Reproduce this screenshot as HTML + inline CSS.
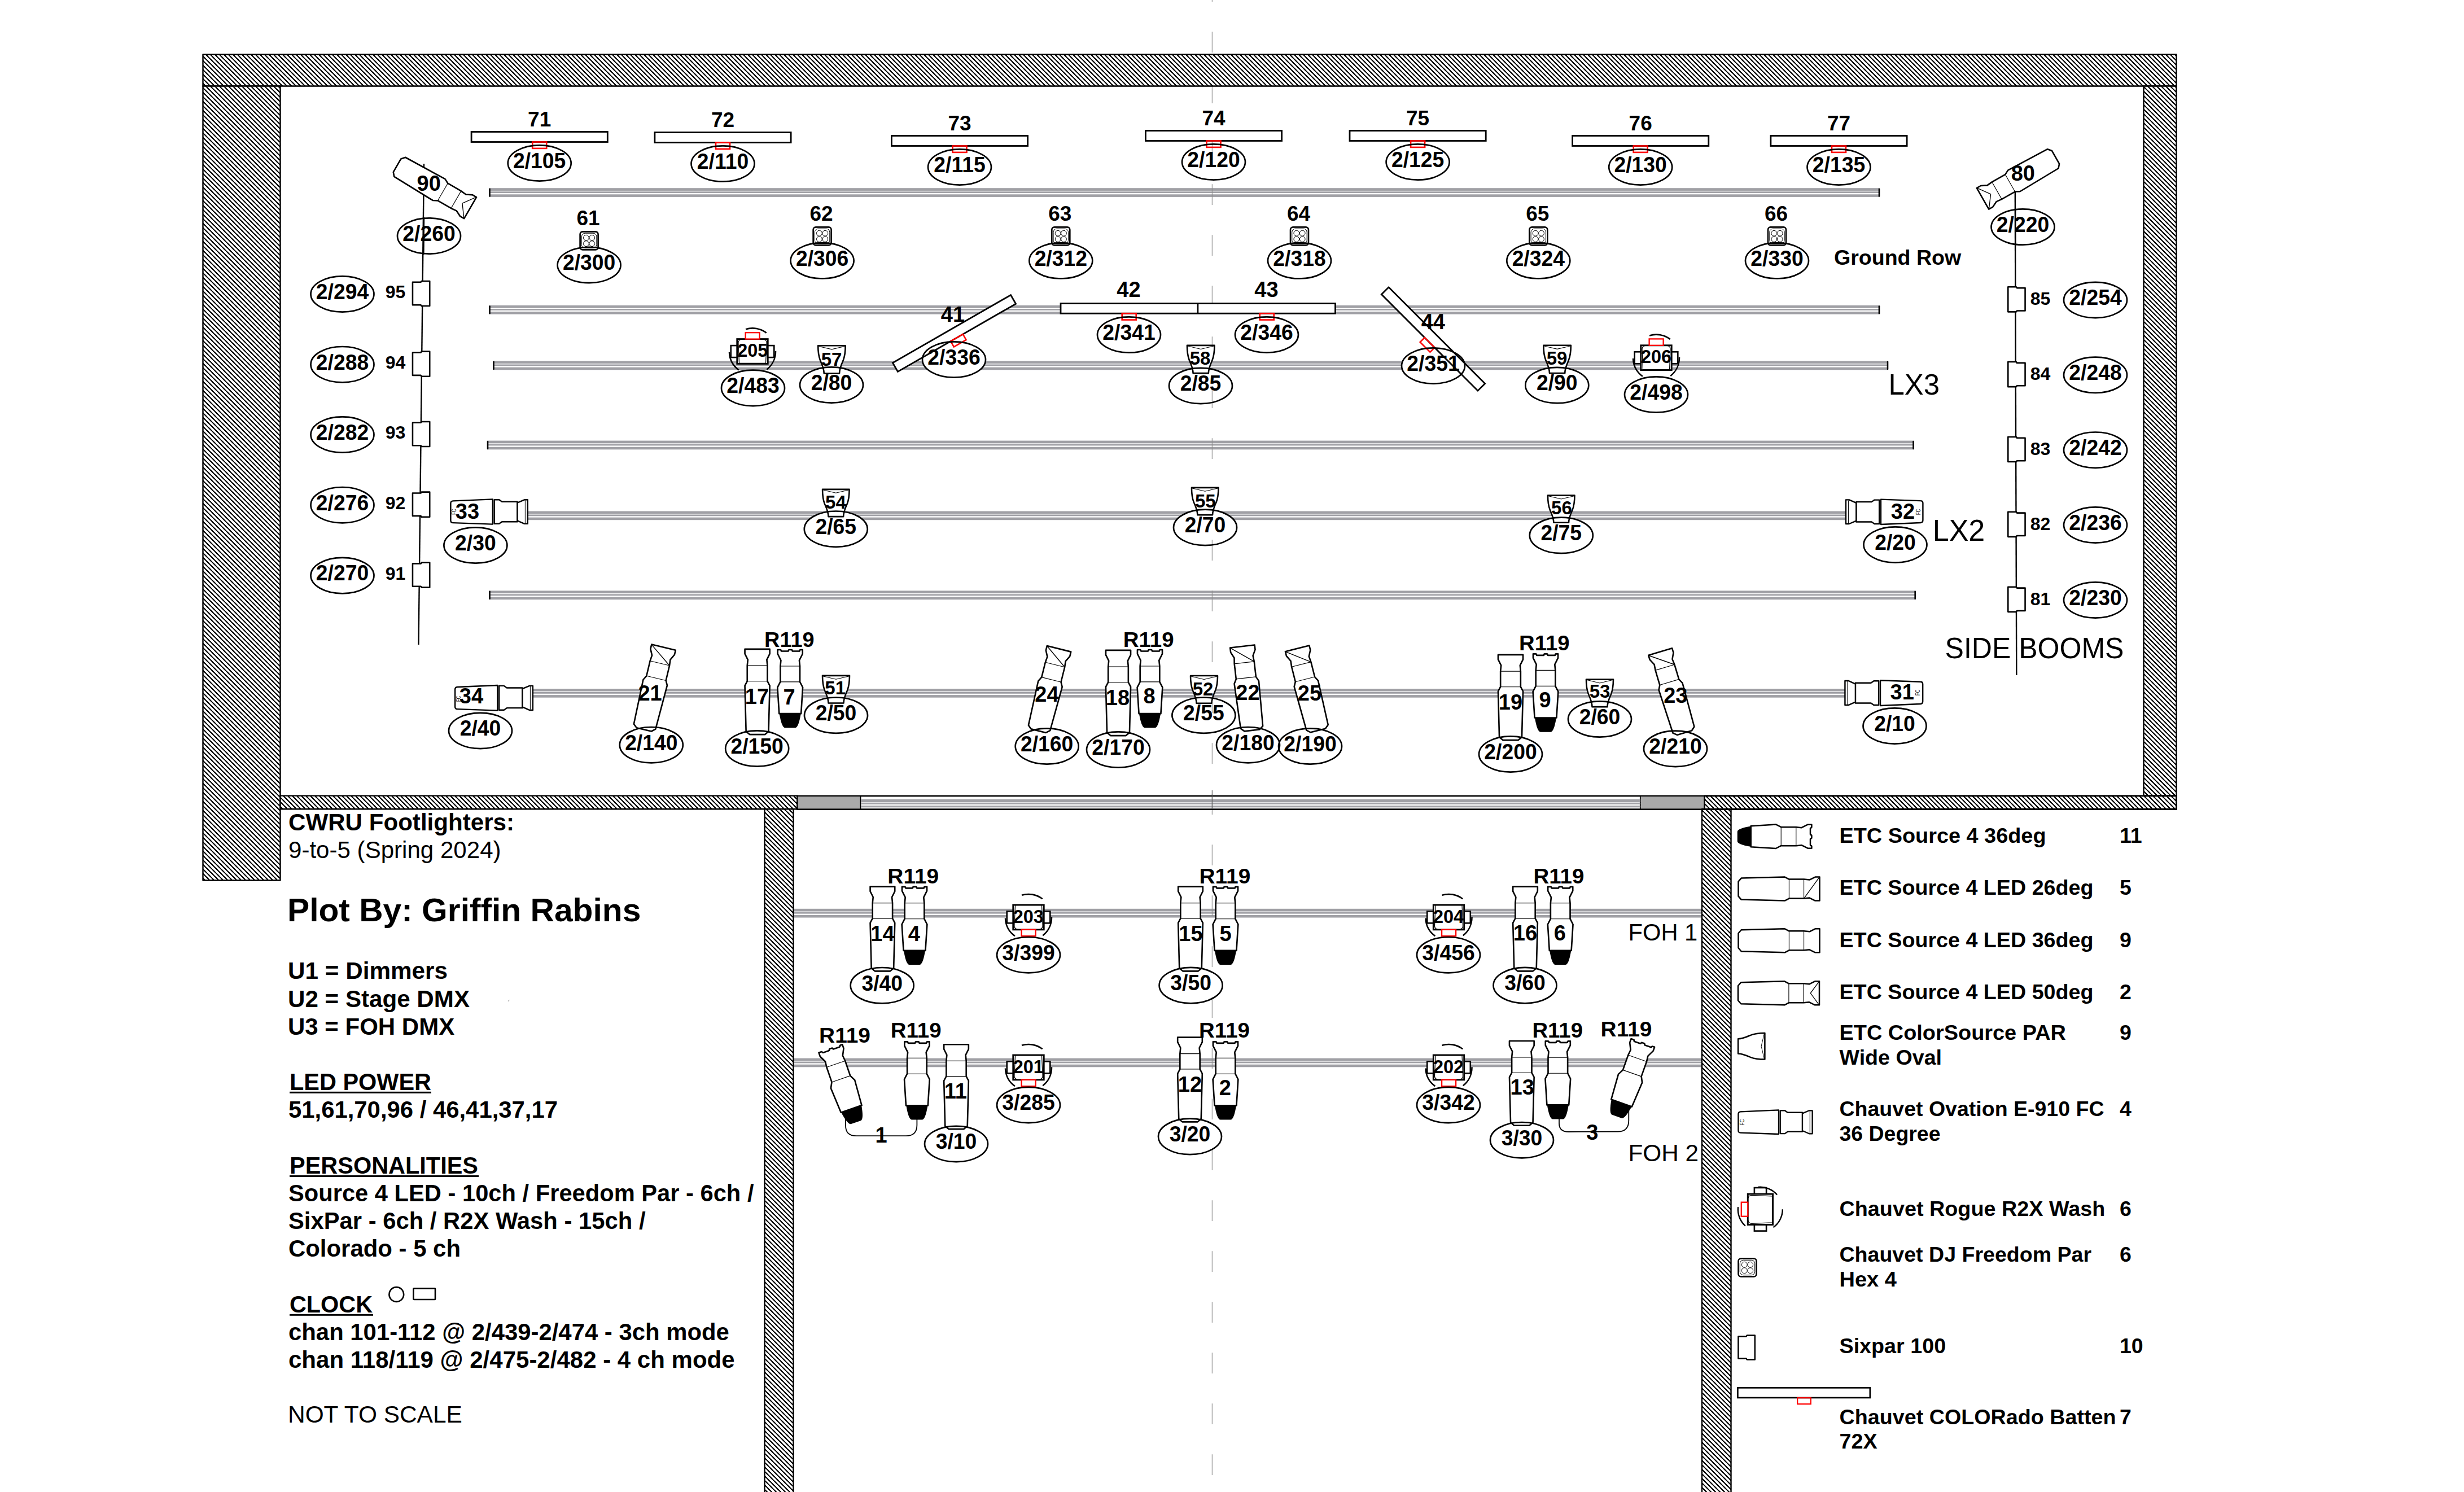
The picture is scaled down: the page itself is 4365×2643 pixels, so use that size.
<!DOCTYPE html><html><head><meta charset="utf-8"><title>Lighting Plot</title><style>html,body{margin:0;padding:0;background:#fff;overflow:hidden}svg{display:block}text{font-family:"Liberation Sans",sans-serif;fill:#000}</style></head><body>
<svg width="4365" height="2643" viewBox="0 0 4365 2643">
<defs><pattern id="hatch" patternUnits="userSpaceOnUse" x="0" y="5" width="8" height="8" shape-rendering="crispEdges"><rect width="8" height="8" fill="#fff"/><g fill="#000"><rect x="0" y="0" width="1" height="1"/><rect x="1" y="0" width="1" height="1"/><rect x="2" y="0" width="1" height="1"/><rect x="1" y="1" width="1" height="1"/><rect x="2" y="1" width="1" height="1"/><rect x="3" y="1" width="1" height="1"/><rect x="2" y="2" width="1" height="1"/><rect x="3" y="2" width="1" height="1"/><rect x="4" y="2" width="1" height="1"/><rect x="3" y="3" width="1" height="1"/><rect x="4" y="3" width="1" height="1"/><rect x="5" y="3" width="1" height="1"/><rect x="4" y="4" width="1" height="1"/><rect x="5" y="4" width="1" height="1"/><rect x="6" y="4" width="1" height="1"/><rect x="5" y="5" width="1" height="1"/><rect x="6" y="5" width="1" height="1"/><rect x="7" y="5" width="1" height="1"/><rect x="6" y="6" width="1" height="1"/><rect x="7" y="6" width="1" height="1"/><rect x="0" y="6" width="1" height="1"/><rect x="7" y="7" width="1" height="1"/><rect x="0" y="7" width="1" height="1"/><rect x="1" y="7" width="1" height="1"/></g></pattern><g id="led36"><path d="M-72,-13 L-66.8,-19 L10.3,-21 L17.9,-17 L44.1,-17 L54.1,-16 L64.1,-21 L72,-21 L72,21 L64.1,21 L54.1,16 L44.1,17 L17.9,17 L10.3,21 L-66.8,19 L-72,13 Z" fill="#fff" stroke="#000" stroke-width="2.5" stroke-linejoin="round"/><path d="M17.9,-17 L17.9,17 M44.1,-17 L44.1,17" stroke="#000" stroke-width="1.1" fill="none"/></g><g id="led26"><use href="#led36"/><path d="M71,-20 L44.1,17" stroke="#000" stroke-width="1.4" fill="none"/></g><g id="led50"><use href="#led36"/><path d="M71,-20 L56.3,0 L71,20" stroke="#000" stroke-width="1.3" fill="none"/></g><g id="conv"><path d="M-41.2,-17.5 C-53.7,-15.5 -65.2,-12.5 -65.2,-8.5 L-65.2,8.5 C-65.2,12.5 -53.7,15.5 -41.2,17.5 Z" fill="#000" stroke="#000" stroke-width="1.5" stroke-linejoin="round"/><path d="M-42,-18.5 L2.2,-21.3 L11.5,-16.5 L38.1,-16.5 L47.8,-15.5 L58.8,-21 L65.7,-21 L65.7,-16.6 Q65.7,-15.3 64.5,-15.3 Q63.3,-15.3 63.3,-14 L63.3,-4 Q63.3,-2.7 64.5,-2.7 Q65.7,-2.7 65.7,-1.4 L65.7,2.2 Q65.7,3.5 64.5,3.5 Q63.3,3.5 63.3,4.8 L63.3,15 Q63.3,16.3 64.5,16.3 Q65.7,16.3 65.7,17.6 L65.7,21 L58.8,21 L47.8,15.5 L38.1,16.5 L11.5,16.5 L2.2,21.3 L-42,18.5 Z" fill="#fff" stroke="#000" stroke-width="2.5" stroke-linejoin="round"/><path d="M11.5,-16.5 L11.5,16.5 M38.1,-16.5 L38.1,16.5" stroke="#000" stroke-width="1.1"/></g><g id="ovation"><path d="M-61.6,-18.4 L6,-21.3 L6,21.3 L-61.6,18.9 Q-65.6,18.9 -65.6,14.9 L-65.6,-14.2 Q-65.6,-18.2 -61.6,-18.4 Z" fill="#fff" stroke="#000" stroke-width="2.3" stroke-linejoin="round"/><path d="M8.7,-20.4 L16.9,-20.4 L21.8,-17 L48,-17 L48,17 L21.8,17 L16.9,20.4 L8.7,20.4 Z" fill="#fff" stroke="#000" stroke-width="2.3" stroke-linejoin="round"/><path d="M48,-15.3 L60,-20.4 L65.6,-20.4 L65.6,20.6 L60,20.6 L48,15.3 Z" fill="#fff" stroke="#000" stroke-width="2.3" stroke-linejoin="round"/><path d="M61.3,-19.5 L61.3,19.5" stroke="#000" stroke-width="1"/></g><g id="par"><path d="M-23.65,-13.1 C-15.65,-13.1 -9.65,-16 -1.65,-19.5 C6.35,-22.6 14.35,-23.3 23.65,-23.3 L23.65,23.3 C14.35,23.3 6.35,22.6 -1.65,19.5 C-9.65,16 -15.65,13.1 -23.65,13.1 Z" fill="#fff" stroke="#000" stroke-width="2.5" stroke-linejoin="round"/><path d="M22.55,-22 L17.35,0 L22.55,22" fill="none" stroke="#000" stroke-width="1"/></g><g id="hex"><rect x="-16" y="-16" width="32" height="32" rx="4.5" fill="#fff" stroke="#000" stroke-width="2.6"/><rect x="-13.2" y="-13.2" width="26.4" height="26.4" rx="6" fill="none" stroke="#000" stroke-width="1"/><circle cx="-5.2" cy="-5.2" r="4.9" fill="none" stroke="#000" stroke-width="1"/><circle cx="5.2" cy="-5.2" r="4.9" fill="none" stroke="#000" stroke-width="1"/><circle cx="-5.2" cy="5.2" r="4.9" fill="none" stroke="#000" stroke-width="1"/><circle cx="5.2" cy="5.2" r="4.9" fill="none" stroke="#000" stroke-width="1"/></g><g id="sixpar"><path d="M-14.7,-19.6 L-0.6,-19.6 L0.6,-21.4 L14.7,-21.4 L14.7,21.4 L0.6,21.4 L-0.6,19.6 L-14.7,19.6 Z" fill="#fff" stroke="#000" stroke-width="2.5" stroke-linejoin="round"/></g><g id="batten"><rect x="-120.6" y="-9" width="241.2" height="18" fill="#fff" stroke="#000" stroke-width="2.8"/><rect x="-12.5" y="9" width="25" height="11.4" fill="none" stroke="#f00" stroke-width="2.6"/></g><g id="r2xbody"><rect x="-38.3" y="-10.3" width="76.6" height="21" fill="#fff" stroke="#000" stroke-width="2.6"/><rect x="-27.2" y="-21.8" width="54.4" height="43.8" fill="#fff" stroke="#000" stroke-width="2.9"/><path d="M-25,-15 Q-25,-21 -19,-21 L19,-21 Q25,-21 25,-15 L23.5,21 L-23.5,21 Z" fill="#fff" stroke="#000" stroke-width="1.2"/><rect x="-12.4" y="-33.2" width="25" height="11.4" fill="#fff" stroke="#f00" stroke-width="2.3"/></g></defs>
<rect width="4365" height="2643" fill="#fff"/>
<rect x="867.5" y="333.2" width="2461.5" height="4.7" fill="#a0a0a5"/>
<rect x="867.5" y="339.2" width="2461.5" height="2.8" fill="#a0a0a5"/>
<rect x="867.5" y="344.3" width="2461.5" height="4.6" fill="#a0a0a5"/>
<rect x="866.2" y="333.4" width="2.6" height="15.4" rx="1" fill="#000"/>
<rect x="3327.7" y="333.4" width="2.6" height="15.4" rx="1" fill="#000"/>
<rect x="867.5" y="541" width="2461.5" height="4.7" fill="#a0a0a5"/>
<rect x="867.5" y="547" width="2461.5" height="2.8" fill="#a0a0a5"/>
<rect x="867.5" y="552.1" width="2461.5" height="4.6" fill="#a0a0a5"/>
<rect x="866.2" y="541.2" width="2.6" height="15.4" rx="1" fill="#000"/>
<rect x="3327.7" y="541.2" width="2.6" height="15.4" rx="1" fill="#000"/>
<rect x="874.5" y="639.5" width="2469.5" height="4.7" fill="#a0a0a5"/>
<rect x="874.5" y="645.5" width="2469.5" height="2.8" fill="#a0a0a5"/>
<rect x="874.5" y="650.6" width="2469.5" height="4.6" fill="#a0a0a5"/>
<rect x="873.2" y="639.7" width="2.6" height="15.4" rx="1" fill="#000"/>
<rect x="3342.7" y="639.7" width="2.6" height="15.4" rx="1" fill="#000"/>
<rect x="864" y="780.6" width="2525.5" height="4.7" fill="#a0a0a5"/>
<rect x="864" y="786.6" width="2525.5" height="2.8" fill="#a0a0a5"/>
<rect x="864" y="791.7" width="2525.5" height="4.6" fill="#a0a0a5"/>
<rect x="862.7" y="780.8" width="2.6" height="15.4" rx="1" fill="#000"/>
<rect x="3388.2" y="780.8" width="2.6" height="15.4" rx="1" fill="#000"/>
<rect x="930" y="905.5" width="2345" height="4.7" fill="#a0a0a5"/>
<rect x="930" y="911.5" width="2345" height="2.8" fill="#a0a0a5"/>
<rect x="930" y="916.6" width="2345" height="4.6" fill="#a0a0a5"/>
<rect x="867.5" y="1046.4" width="2525.2" height="4.7" fill="#a0a0a5"/>
<rect x="867.5" y="1052.4" width="2525.2" height="2.8" fill="#a0a0a5"/>
<rect x="867.5" y="1057.5" width="2525.2" height="4.6" fill="#a0a0a5"/>
<rect x="866.2" y="1046.6" width="2.6" height="15.4" rx="1" fill="#000"/>
<rect x="3391.4" y="1046.6" width="2.6" height="15.4" rx="1" fill="#000"/>
<rect x="940" y="1220" width="2332" height="4.7" fill="#a0a0a5"/>
<rect x="940" y="1226" width="2332" height="2.8" fill="#a0a0a5"/>
<rect x="940" y="1231.1" width="2332" height="4.6" fill="#a0a0a5"/>
<rect x="1406" y="1609.8" width="1609" height="4.7" fill="#a0a0a5"/>
<rect x="1406" y="1615.8" width="1609" height="2.8" fill="#a0a0a5"/>
<rect x="1406" y="1620.9" width="1609" height="4.6" fill="#a0a0a5"/>
<rect x="1406" y="1874.6" width="1609" height="4.7" fill="#a0a0a5"/>
<rect x="1406" y="1880.6" width="1609" height="2.8" fill="#a0a0a5"/>
<rect x="1406" y="1885.7" width="1609" height="4.6" fill="#a0a0a5"/>
<ellipse cx="955.7" cy="289" rx="56" ry="31.7" fill="#fff"/>
<ellipse cx="1280.5" cy="290" rx="56" ry="31.7" fill="#fff"/>
<ellipse cx="1700" cy="296" rx="56" ry="31.7" fill="#fff"/>
<ellipse cx="2150" cy="287" rx="56" ry="31.7" fill="#fff"/>
<ellipse cx="2511.6" cy="287" rx="56" ry="31.7" fill="#fff"/>
<ellipse cx="2906.2" cy="296" rx="56" ry="31.7" fill="#fff"/>
<ellipse cx="3257.5" cy="296" rx="56" ry="31.7" fill="#fff"/>
<ellipse cx="2000" cy="593" rx="56" ry="31.7" fill="#fff"/>
<ellipse cx="2244" cy="593" rx="56" ry="31.7" fill="#fff"/>
<ellipse cx="1690" cy="637" rx="56" ry="31.7" fill="#fff"/>
<ellipse cx="2539" cy="648" rx="56" ry="31.7" fill="#fff"/>
<ellipse cx="1043.6" cy="469.5" rx="56" ry="31.7" fill="#fff"/>
<ellipse cx="1456.6" cy="461.8" rx="56" ry="31.7" fill="#fff"/>
<ellipse cx="1879.3" cy="461.8" rx="56" ry="31.7" fill="#fff"/>
<ellipse cx="2302" cy="461.8" rx="56" ry="31.7" fill="#fff"/>
<ellipse cx="2725.3" cy="461.8" rx="56" ry="31.7" fill="#fff"/>
<ellipse cx="3148" cy="461.8" rx="56" ry="31.7" fill="#fff"/>
<ellipse cx="606.5" cy="521" rx="56" ry="31.7" fill="#fff"/>
<ellipse cx="606.5" cy="645.7" rx="56" ry="31.7" fill="#fff"/>
<ellipse cx="606.5" cy="770" rx="56" ry="31.7" fill="#fff"/>
<ellipse cx="606.5" cy="894.7" rx="56" ry="31.7" fill="#fff"/>
<ellipse cx="606.5" cy="1019.6" rx="56" ry="31.7" fill="#fff"/>
<ellipse cx="3712" cy="531.5" rx="56" ry="31.7" fill="#fff"/>
<ellipse cx="3712" cy="664.3" rx="56" ry="31.7" fill="#fff"/>
<ellipse cx="3712" cy="797.2" rx="56" ry="31.7" fill="#fff"/>
<ellipse cx="3712" cy="930" rx="56" ry="31.7" fill="#fff"/>
<ellipse cx="3712" cy="1063" rx="56" ry="31.7" fill="#fff"/>
<ellipse cx="760" cy="418" rx="56" ry="31.7" fill="#fff"/>
<ellipse cx="3583.5" cy="402" rx="56" ry="31.7" fill="#fff"/>
<ellipse cx="1334" cy="687.4" rx="56" ry="31.7" fill="#fff"/>
<ellipse cx="1473" cy="682" rx="56" ry="31.7" fill="#fff"/>
<ellipse cx="2127" cy="683.5" rx="56" ry="31.7" fill="#fff"/>
<ellipse cx="2758.3" cy="682.5" rx="56" ry="31.7" fill="#fff"/>
<ellipse cx="2934" cy="699" rx="56" ry="31.7" fill="#fff"/>
<ellipse cx="842.4" cy="966" rx="56" ry="31.7" fill="#fff"/>
<ellipse cx="1480.8" cy="937.2" rx="56" ry="31.7" fill="#fff"/>
<ellipse cx="2135" cy="934.4" rx="56" ry="31.7" fill="#fff"/>
<ellipse cx="2765.8" cy="948.4" rx="56" ry="31.7" fill="#fff"/>
<ellipse cx="3357.5" cy="965" rx="56" ry="31.7" fill="#fff"/>
<ellipse cx="851" cy="1294.5" rx="56" ry="31.7" fill="#fff"/>
<ellipse cx="1153.8" cy="1319.7" rx="56" ry="31.7" fill="#fff"/>
<ellipse cx="1341.2" cy="1326" rx="56" ry="31.7" fill="#fff"/>
<ellipse cx="1481" cy="1267.2" rx="56" ry="31.7" fill="#fff"/>
<ellipse cx="1854.7" cy="1322" rx="56" ry="31.7" fill="#fff"/>
<ellipse cx="1981" cy="1328" rx="56" ry="31.7" fill="#fff"/>
<ellipse cx="2132.4" cy="1267.2" rx="56" ry="31.7" fill="#fff"/>
<ellipse cx="2211" cy="1319.7" rx="56" ry="31.7" fill="#fff"/>
<ellipse cx="2321" cy="1322" rx="56" ry="31.7" fill="#fff"/>
<ellipse cx="2676" cy="1336" rx="56" ry="31.7" fill="#fff"/>
<ellipse cx="2834" cy="1274" rx="56" ry="31.7" fill="#fff"/>
<ellipse cx="2968" cy="1326.4" rx="56" ry="31.7" fill="#fff"/>
<ellipse cx="3356.5" cy="1286" rx="56" ry="31.7" fill="#fff"/>
<ellipse cx="1562.7" cy="1745.7" rx="56" ry="31.7" fill="#fff"/>
<ellipse cx="1822" cy="1691.7" rx="56" ry="31.7" fill="#fff"/>
<ellipse cx="2109.6" cy="1745.6" rx="56" ry="31.7" fill="#fff"/>
<ellipse cx="2566" cy="1691.7" rx="56" ry="31.7" fill="#fff"/>
<ellipse cx="2701.5" cy="1745.6" rx="56" ry="31.7" fill="#fff"/>
<ellipse cx="1694" cy="2026.5" rx="56" ry="31.7" fill="#fff"/>
<ellipse cx="1822" cy="1957.5" rx="56" ry="31.7" fill="#fff"/>
<ellipse cx="2108" cy="2013.4" rx="56" ry="31.7" fill="#fff"/>
<ellipse cx="2566" cy="1957.5" rx="56" ry="31.7" fill="#fff"/>
<ellipse cx="2696" cy="2019.7" rx="56" ry="31.7" fill="#fff"/>
<line x1="2147.3" y1="0" x2="2147.3" y2="2643" stroke="#8a8a8a" stroke-width="1.1" stroke-dasharray="36.7 53.3" stroke-dashoffset="-56.3"/>
<path d="M751,290 L741.5,1142" stroke="#000" stroke-width="2.4" fill="none"/>
<path d="M3569.8,338 L3572.3,1196" stroke="#000" stroke-width="2.4" fill="none"/>
<use href="#batten" transform="translate(955.7 242.5)"/>
<text x="955.7" y="223.5" font-size="37" font-weight="bold" text-anchor="middle">71</text>
<use href="#batten" transform="translate(1280.5 243.5)"/>
<text x="1280.5" y="224.5" font-size="37" font-weight="bold" text-anchor="middle">72</text>
<use href="#batten" transform="translate(1700 249.5)"/>
<text x="1700" y="230.5" font-size="37" font-weight="bold" text-anchor="middle">73</text>
<use href="#batten" transform="translate(2150 240.5)"/>
<text x="2150" y="221.5" font-size="37" font-weight="bold" text-anchor="middle">74</text>
<use href="#batten" transform="translate(2511.6 240.5)"/>
<text x="2511.6" y="221.5" font-size="37" font-weight="bold" text-anchor="middle">75</text>
<use href="#batten" transform="translate(2906.2 249.5)"/>
<text x="2906.2" y="230.5" font-size="37" font-weight="bold" text-anchor="middle">76</text>
<use href="#batten" transform="translate(3257.5 249.5)"/>
<text x="3257.5" y="230.5" font-size="37" font-weight="bold" text-anchor="middle">77</text>
<rect x="1879" y="537.6" width="486.5" height="17.6" fill="#fff" stroke="#000" stroke-width="2.8"/>
<line x1="2122" y1="537.6" x2="2122" y2="555.2" stroke="#000" stroke-width="2.6"/>
<rect x="1987.7" y="555.2" width="25" height="11.4" fill="none" stroke="#f00" stroke-width="2.6"/>
<rect x="2231.7" y="555.2" width="25" height="11.4" fill="none" stroke="#f00" stroke-width="2.6"/>
<text x="1999.5" y="526" font-size="38" font-weight="bold" text-anchor="middle">42</text>
<text x="2243.5" y="526" font-size="38" font-weight="bold" text-anchor="middle">43</text>
<use href="#batten" transform="translate(1690.5 590.5) rotate(-29.9)"/>
<text x="1688" y="569.6" font-size="38" font-weight="bold" text-anchor="middle">41</text>
<use href="#batten" transform="translate(2539 600.5) rotate(45)"/>
<text x="2538.8" y="583" font-size="38" font-weight="bold" text-anchor="middle">44</text>
<use href="#hex" transform="translate(1043.6 426.4)"/>
<text x="1042.1" y="399.4" font-size="37" font-weight="bold" text-anchor="middle">61</text>
<use href="#hex" transform="translate(1456.6 418.4)"/>
<text x="1455.1" y="391.4" font-size="37" font-weight="bold" text-anchor="middle">62</text>
<use href="#hex" transform="translate(1879.3 418.4)"/>
<text x="1877.8" y="391.4" font-size="37" font-weight="bold" text-anchor="middle">63</text>
<use href="#hex" transform="translate(2302 418.4)"/>
<text x="2300.5" y="391.4" font-size="37" font-weight="bold" text-anchor="middle">64</text>
<use href="#hex" transform="translate(2725.3 418.4)"/>
<text x="2723.8" y="391.4" font-size="37" font-weight="bold" text-anchor="middle">65</text>
<use href="#hex" transform="translate(3148 418.4)"/>
<text x="3146.5" y="391.4" font-size="37" font-weight="bold" text-anchor="middle">66</text>
<text x="3249" y="469" font-size="37" font-weight="bold" text-anchor="start" textLength="225.2" lengthAdjust="spacingAndGlyphs">Ground Row</text>
<use href="#sixpar" transform="translate(746.1 520) scale(1.03)"/>
<text x="682.8" y="528" font-size="32" font-weight="bold" text-anchor="start">95</text>
<use href="#sixpar" transform="translate(746.1 644.7) scale(1.03)"/>
<text x="682.8" y="652.7" font-size="32" font-weight="bold" text-anchor="start">94</text>
<use href="#sixpar" transform="translate(746.1 769) scale(1.03)"/>
<text x="682.8" y="777" font-size="32" font-weight="bold" text-anchor="start">93</text>
<use href="#sixpar" transform="translate(746.1 893.7) scale(1.03)"/>
<text x="682.8" y="901.7" font-size="32" font-weight="bold" text-anchor="start">92</text>
<use href="#sixpar" transform="translate(746.1 1018.6) scale(1.03)"/>
<text x="682.8" y="1026.6" font-size="32" font-weight="bold" text-anchor="start">91</text>
<use href="#sixpar" transform="translate(3572.4 530.3) rotate(180) scale(1.03)"/>
<text x="3596.8" y="540" font-size="32" font-weight="bold" text-anchor="start">85</text>
<use href="#sixpar" transform="translate(3572.4 663.1) rotate(180) scale(1.03)"/>
<text x="3596.8" y="672.8" font-size="32" font-weight="bold" text-anchor="start">84</text>
<use href="#sixpar" transform="translate(3572.4 796) rotate(180) scale(1.03)"/>
<text x="3596.8" y="805.7" font-size="32" font-weight="bold" text-anchor="start">83</text>
<use href="#sixpar" transform="translate(3572.4 928.8) rotate(180) scale(1.03)"/>
<text x="3596.8" y="938.5" font-size="32" font-weight="bold" text-anchor="start">82</text>
<use href="#sixpar" transform="translate(3572.4 1061.8) rotate(180) scale(1.03)"/>
<text x="3596.8" y="1071.5" font-size="32" font-weight="bold" text-anchor="start">81</text>
<use href="#led50" transform="translate(768.3 330.7) rotate(30.1) scale(1.04)"/>
<text x="759.7" y="337.5" font-size="38" font-weight="bold" text-anchor="middle">90</text>
<path d="M751,385 L750.4,451" stroke="#000" stroke-width="2.4"/>
<use href="#led50" transform="translate(3577 315.2) rotate(150.4) scale(1.03)"/>
<text x="3583.8" y="319.6" font-size="38" font-weight="bold" text-anchor="middle">80</text>
<path d="M3570.1,369 L3570.3,435" stroke="#000" stroke-width="2.4"/>
<use href="#r2xbody" transform="translate(1333 622.4)"/>
<path d="M1321.01,583.19 A41,41 0 0 1 1357.67,589.66 M1373.99,621.68 A41,41 0 0 1 1358.24,654.71 M1308.9,655.57 A41,41 0 0 1 1292.02,623.83 " fill="none" stroke="#000" stroke-width="2.6"/>
<text x="1333.3" y="632.3" font-size="32.5" font-weight="bold" text-anchor="middle">205</text>
<use href="#par" transform="translate(1473.4 636.9) rotate(-90) scale(1.04)"/>
<text x="1473" y="647.6" font-size="33" font-weight="bold" text-anchor="middle">57</text>
<use href="#par" transform="translate(2127.2 636.5) rotate(-90) scale(1.04)"/>
<text x="2126" y="646.4" font-size="33" font-weight="bold" text-anchor="middle">58</text>
<use href="#par" transform="translate(2758.6 636.4) rotate(-90) scale(1.04)"/>
<text x="2758" y="646.2" font-size="33" font-weight="bold" text-anchor="middle">59</text>
<use href="#r2xbody" transform="translate(2934 633.6)"/>
<path d="M2922.01,594.39 A41,41 0 0 1 2958.67,600.86 M2974.99,632.88 A41,41 0 0 1 2959.24,665.91 M2909.9,666.77 A41,41 0 0 1 2893.02,635.03 " fill="none" stroke="#000" stroke-width="2.6"/>
<text x="2934" y="642.8" font-size="32.5" font-weight="bold" text-anchor="middle">206</text>
<text x="3345.5" y="699" font-size="51" font-weight="normal" text-anchor="start" textLength="90.6" lengthAdjust="spacingAndGlyphs">LX3</text>
<use href="#ovation" transform="translate(866.6 906.5) scale(1.04)"/>
<text x="0" y="0" font-size="10.5" font-weight="normal" text-anchor="middle" textLength="10.5" lengthAdjust="spacingAndGlyphs" transform="translate(804.6 906.8) rotate(-90)" dy="3.7">FC</text>
<text x="828" y="918.5" font-size="38" font-weight="bold" text-anchor="middle">33</text>
<use href="#par" transform="translate(1480.8 891) rotate(-90) scale(1.02)"/>
<text x="1480.4" y="900.6" font-size="33" font-weight="bold" text-anchor="middle">54</text>
<use href="#par" transform="translate(2134.7 888) rotate(-90) scale(1.02)"/>
<text x="2135.3" y="898.8" font-size="33" font-weight="bold" text-anchor="middle">55</text>
<use href="#par" transform="translate(2765.7 901.7) rotate(-90) scale(1.02)"/>
<text x="2766.4" y="911.3" font-size="33" font-weight="bold" text-anchor="middle">56</text>
<use href="#ovation" transform="translate(3338.2 906.8) rotate(180) scale(1.04)"/>
<text x="0" y="0" font-size="10.5" font-weight="normal" text-anchor="middle" textLength="10.5" lengthAdjust="spacingAndGlyphs" transform="translate(3397.9 907.1) rotate(-90)" dy="3.7">FC</text>
<text x="3371" y="918.6" font-size="38" font-weight="bold" text-anchor="middle">32</text>
<text x="3423.7" y="958" font-size="54" font-weight="normal" text-anchor="start" textLength="92.6" lengthAdjust="spacingAndGlyphs">LX2</text>
<use href="#ovation" transform="translate(875 1236.3) scale(1.05)"/>
<text x="0" y="0" font-size="10.5" font-weight="normal" text-anchor="middle" textLength="10.5" lengthAdjust="spacingAndGlyphs" transform="translate(812.5 1238) rotate(-90)" dy="3.7">FC</text>
<text x="835" y="1246" font-size="38" font-weight="bold" text-anchor="middle">34</text>
<use href="#led26" transform="translate(1158.2 1219.5) rotate(-76.6) scale(1.04)"/>
<text x="1151.6" y="1241" font-size="38" font-weight="bold" text-anchor="middle">21</text>
<use href="#led36" transform="translate(1341.6 1225.5) rotate(-90) scale(1.05)"/>
<text x="1341" y="1247" font-size="38" font-weight="bold" text-anchor="middle">17</text>
<use href="#conv" transform="translate(1399.7 1220) rotate(-90) scale(1.05)"/>
<text x="1398" y="1247.5" font-size="38" font-weight="bold" text-anchor="middle">7</text>
<text x="1398.3" y="1146" font-size="36.5" font-weight="bold" text-anchor="middle" textLength="88.4" lengthAdjust="spacingAndGlyphs">R119</text>
<use href="#par" transform="translate(1481 1221.2) rotate(-90) scale(1.03)"/>
<text x="1479.7" y="1229.9" font-size="33" font-weight="bold" text-anchor="middle">51</text>
<use href="#led26" transform="translate(1857.9 1222) rotate(-76) scale(1.04)"/>
<text x="1854.4" y="1242.7" font-size="38" font-weight="bold" text-anchor="middle">24</text>
<use href="#led36" transform="translate(1981 1227.5) rotate(-90) scale(1.05)"/>
<text x="1980" y="1249.2" font-size="38" font-weight="bold" text-anchor="middle">18</text>
<use href="#conv" transform="translate(2037 1220) rotate(-90) scale(1.05)"/>
<text x="2036" y="1246" font-size="38" font-weight="bold" text-anchor="middle">8</text>
<text x="2034.7" y="1145.5" font-size="36.5" font-weight="bold" text-anchor="middle" textLength="89.9" lengthAdjust="spacingAndGlyphs">R119</text>
<use href="#par" transform="translate(2133 1221.4) rotate(-90) scale(1.03)"/>
<text x="2131" y="1231.5" font-size="33" font-weight="bold" text-anchor="middle">52</text>
<use href="#led26" transform="translate(2209.5 1219.4) rotate(-96.6) scale(1.04)"/>
<text x="2210.5" y="1239.5" font-size="38" font-weight="bold" text-anchor="middle">22</text>
<use href="#led26" transform="translate(2316.5 1221.4) rotate(-104.2) scale(1.04)"/>
<text x="2320" y="1241.1" font-size="38" font-weight="bold" text-anchor="middle">25</text>
<use href="#led36" transform="translate(2676 1235.5) rotate(-90) scale(1.05)"/>
<text x="2676" y="1256.7" font-size="38" font-weight="bold" text-anchor="middle">19</text>
<use href="#conv" transform="translate(2738 1227.4) rotate(-90) scale(1.05)"/>
<text x="2737" y="1252.5" font-size="38" font-weight="bold" text-anchor="middle">9</text>
<text x="2735.8" y="1152" font-size="36.5" font-weight="bold" text-anchor="middle" textLength="89.6" lengthAdjust="spacingAndGlyphs">R119</text>
<use href="#par" transform="translate(2834 1227.8) rotate(-90) scale(1.03)"/>
<text x="2834" y="1236.4" font-size="33" font-weight="bold" text-anchor="middle">53</text>
<use href="#led26" transform="translate(2962.6 1226.3) rotate(-106.6) scale(1.04)"/>
<text x="2968.3" y="1245" font-size="38" font-weight="bold" text-anchor="middle">23</text>
<use href="#ovation" transform="translate(3337.3 1227.6) rotate(180) scale(1.05)"/>
<text x="0" y="0" font-size="10.5" font-weight="normal" text-anchor="middle" textLength="10.5" lengthAdjust="spacingAndGlyphs" transform="translate(3397.7 1226.9) rotate(-90)" dy="3.7">FC</text>
<text x="3369.7" y="1238.7" font-size="38" font-weight="bold" text-anchor="middle">31</text>
<text x="3445.5" y="1166.4" font-size="52" font-weight="normal" text-anchor="start" textLength="317" lengthAdjust="spacingAndGlyphs">SIDE BOOMS</text>
<use href="#led36" transform="translate(1563.4 1645.5) rotate(-90) scale(1.04)"/>
<text x="1563.4" y="1666.5" font-size="38" font-weight="bold" text-anchor="middle">14</text>
<use href="#conv" transform="translate(1620 1639.8) rotate(-90) scale(1.05)"/>
<text x="1619.2" y="1666.5" font-size="38" font-weight="bold" text-anchor="middle">4</text>
<text x="1617.8" y="1564.7" font-size="36.5" font-weight="bold" text-anchor="middle" textLength="90.9" lengthAdjust="spacingAndGlyphs">R119</text>
<g transform="translate(1822 1625) scale(1 -1)"><use href="#r2xbody"/></g>
<path d="M1810.01,1585.79 A41,41 0 0 1 1846.67,1592.26 M1862.99,1624.28 A41,41 0 0 1 1847.24,1657.31 M1797.9,1658.17 A41,41 0 0 1 1781.02,1626.43 " fill="none" stroke="#000" stroke-width="2.6"/>
<text x="1821.8" y="1635.3" font-size="32.5" font-weight="bold" text-anchor="middle">203</text>
<use href="#led36" transform="translate(2109 1645.5) rotate(-90) scale(1.04)"/>
<text x="2109.4" y="1666.5" font-size="38" font-weight="bold" text-anchor="middle">15</text>
<use href="#conv" transform="translate(2171 1639.8) rotate(-90) scale(1.05)"/>
<text x="2171" y="1666.5" font-size="38" font-weight="bold" text-anchor="middle">5</text>
<text x="2169.9" y="1564.7" font-size="36.5" font-weight="bold" text-anchor="middle" textLength="90.9" lengthAdjust="spacingAndGlyphs">R119</text>
<g transform="translate(2566.5 1625) scale(1 -1)"><use href="#r2xbody"/></g>
<path d="M2554.51,1585.79 A41,41 0 0 1 2591.17,1592.26 M2607.49,1624.28 A41,41 0 0 1 2591.74,1657.31 M2542.4,1658.17 A41,41 0 0 1 2525.52,1626.43 " fill="none" stroke="#000" stroke-width="2.6"/>
<text x="2566" y="1635.2" font-size="32.5" font-weight="bold" text-anchor="middle">204</text>
<use href="#led36" transform="translate(2702 1645.5) rotate(-90) scale(1.04)"/>
<text x="2702" y="1666.3" font-size="38" font-weight="bold" text-anchor="middle">16</text>
<use href="#conv" transform="translate(2764.2 1639.8) rotate(-90) scale(1.05)"/>
<text x="2763.3" y="1666.3" font-size="38" font-weight="bold" text-anchor="middle">6</text>
<text x="2761.4" y="1564.7" font-size="36.5" font-weight="bold" text-anchor="middle" textLength="89.9" lengthAdjust="spacingAndGlyphs">R119</text>
<text x="2884.6" y="1665.7" font-size="42" font-weight="normal" text-anchor="start" textLength="122.6" lengthAdjust="spacingAndGlyphs">FOH 1</text>
<path d="M1498,1979 L1498,1994 Q1498,2012.2 1517,2012.2 L1605,2012.2 Q1624.4,2012.2 1624.4,1993 L1624.4,1981" fill="none" stroke="#000" stroke-width="1.8"/>
<text x="1561" y="2024" font-size="38" font-weight="bold" text-anchor="middle">1</text>
<use href="#conv" transform="translate(1493.8 1922.7) rotate(-109) scale(1.05)"/>
<text x="1496.5" y="1846.6" font-size="36.5" font-weight="bold" text-anchor="middle" textLength="90.9" lengthAdjust="spacingAndGlyphs">R119</text>
<use href="#conv" transform="translate(1624.4 1914.3) rotate(-90) scale(1.05)"/>
<text x="1622.6" y="1838" font-size="36.5" font-weight="bold" text-anchor="middle" textLength="89.9" lengthAdjust="spacingAndGlyphs">R119</text>
<use href="#led36" transform="translate(1694 1925.2) rotate(-90) scale(1.04)"/>
<text x="1692.8" y="1946.2" font-size="38" font-weight="bold" text-anchor="middle">11</text>
<g transform="translate(1822 1891) scale(1 -1)"><use href="#r2xbody"/></g>
<path d="M1810.01,1851.79 A41,41 0 0 1 1846.67,1858.26 M1862.99,1890.28 A41,41 0 0 1 1847.24,1923.31 M1797.9,1924.17 A41,41 0 0 1 1781.02,1892.43 " fill="none" stroke="#000" stroke-width="2.6"/>
<text x="1821.8" y="1901.1" font-size="32.5" font-weight="bold" text-anchor="middle">201</text>
<use href="#led36" transform="translate(2108 1912.5) rotate(-90) scale(1.04)"/>
<text x="2108" y="1934" font-size="38" font-weight="bold" text-anchor="middle">12</text>
<use href="#conv" transform="translate(2171 1914.3) rotate(-90) scale(1.05)"/>
<text x="2170.4" y="1939.5" font-size="38" font-weight="bold" text-anchor="middle">2</text>
<text x="2169" y="1838" font-size="36.5" font-weight="bold" text-anchor="middle" textLength="89.9" lengthAdjust="spacingAndGlyphs">R119</text>
<g transform="translate(2566.5 1891) scale(1 -1)"><use href="#r2xbody"/></g>
<path d="M2554.51,1851.79 A41,41 0 0 1 2591.17,1858.26 M2607.49,1890.28 A41,41 0 0 1 2591.74,1923.31 M2542.4,1924.17 A41,41 0 0 1 2525.52,1892.43 " fill="none" stroke="#000" stroke-width="2.6"/>
<text x="2566" y="1901" font-size="32.5" font-weight="bold" text-anchor="middle">202</text>
<path d="M2762,1981 L2762,1990 Q2762,2005 2779,2005 L2866,2004.6 Q2885.3,2004.6 2885.3,1985 L2885.3,1968" fill="none" stroke="#000" stroke-width="1.8"/>
<use href="#led36" transform="translate(2695.8 1918.9) rotate(-90) scale(1.04)"/>
<text x="2696.7" y="1938.6" font-size="38" font-weight="bold" text-anchor="middle">13</text>
<use href="#conv" transform="translate(2759.8 1913.3) rotate(-90) scale(1.05)"/>
<text x="2759.2" y="1837.8" font-size="36.5" font-weight="bold" text-anchor="middle" textLength="89.6" lengthAdjust="spacingAndGlyphs">R119</text>
<use href="#conv" transform="translate(2887.3 1912.5) rotate(-70.5) scale(1.05)"/>
<text x="2881" y="1835.6" font-size="36.5" font-weight="bold" text-anchor="middle" textLength="90.9" lengthAdjust="spacingAndGlyphs">R119</text>
<text x="2820.8" y="2018.5" font-size="38" font-weight="bold" text-anchor="middle">3</text>
<text x="2884.4" y="2056.8" font-size="42.5" font-weight="normal" text-anchor="start" textLength="124.6" lengthAdjust="spacingAndGlyphs">FOH 2</text>
<line x1="900.4" y1="1773.5" x2="902.6" y2="1771.3" stroke="#333" stroke-width="1"/>
<text x="511" y="1471.4" font-size="43" font-weight="bold" text-anchor="start" textLength="400" lengthAdjust="spacingAndGlyphs">CWRU Footlighters:</text>
<text x="511" y="1519.6" font-size="43" font-weight="normal" text-anchor="start" textLength="376.6" lengthAdjust="spacingAndGlyphs">9-to-5 (Spring 2024)</text>
<text x="509" y="1632.4" font-size="57.5" font-weight="bold" text-anchor="start" textLength="626.3" lengthAdjust="spacingAndGlyphs">Plot By: Griffin Rabins</text>
<text x="510" y="1733.9" font-size="43" font-weight="bold" text-anchor="start" textLength="283" lengthAdjust="spacingAndGlyphs">U1 = Dimmers</text>
<text x="510" y="1783.9" font-size="43" font-weight="bold" text-anchor="start" textLength="322" lengthAdjust="spacingAndGlyphs">U2 = Stage DMX</text>
<text x="510" y="1833" font-size="43" font-weight="bold" text-anchor="start" textLength="295.2" lengthAdjust="spacingAndGlyphs">U3 = FOH DMX</text>
<text x="513" y="1931" font-size="43" font-weight="bold" text-anchor="start" textLength="251" lengthAdjust="spacingAndGlyphs">LED POWER</text>
<rect x="513" y="1933.8" width="251" height="3" fill="#000"/>
<text x="511" y="1980" font-size="43" font-weight="bold" text-anchor="start" textLength="477" lengthAdjust="spacingAndGlyphs">51,61,70,96 / 46,41,37,17</text>
<text x="513" y="2079" font-size="43" font-weight="bold" text-anchor="start" textLength="334" lengthAdjust="spacingAndGlyphs">PERSONALITIES</text>
<rect x="513" y="2082" width="335" height="3" fill="#000"/>
<text x="511" y="2128.2" font-size="43" font-weight="bold" text-anchor="start" textLength="824.5" lengthAdjust="spacingAndGlyphs">Source 4 LED - 10ch / Freedom Par - 6ch /</text>
<text x="511" y="2177.3" font-size="43" font-weight="bold" text-anchor="start" textLength="632.5" lengthAdjust="spacingAndGlyphs">SixPar - 6ch / R2X Wash - 15ch /</text>
<text x="511" y="2225.6" font-size="43" font-weight="bold" text-anchor="start" textLength="305" lengthAdjust="spacingAndGlyphs">Colorado - 5 ch</text>
<text x="513" y="2324.7" font-size="43" font-weight="bold" text-anchor="start" textLength="147" lengthAdjust="spacingAndGlyphs">CLOCK</text>
<rect x="513" y="2327.8" width="148" height="3" fill="#000"/>
<circle cx="702.3" cy="2293" r="12.9" fill="none" stroke="#000" stroke-width="2.6"/>
<rect x="732.4" y="2282.4" width="38.6" height="19.6" rx="0.8" fill="none" stroke="#000" stroke-width="2.6"/>
<text x="511" y="2373.8" font-size="43" font-weight="bold" text-anchor="start" textLength="780.8" lengthAdjust="spacingAndGlyphs">chan 101-112 @ 2/439-2/474 - 3ch mode</text>
<text x="511" y="2422.9" font-size="43" font-weight="bold" text-anchor="start" textLength="790.6" lengthAdjust="spacingAndGlyphs">chan 118/119 @ 2/475-2/482 - 4 ch mode</text>
<text x="510" y="2520.2" font-size="43" font-weight="normal" text-anchor="start" textLength="308.8" lengthAdjust="spacingAndGlyphs">NOT TO SCALE</text>
<use href="#conv" transform="translate(3143.7 1481.7)"/>
<text x="3258.5" y="1492.6" font-size="37.5" font-weight="bold" text-anchor="start" textLength="366" lengthAdjust="spacingAndGlyphs">ETC Source 4 36deg</text>
<text x="3755" y="1492.6" font-size="37.5" font-weight="bold" text-anchor="start">11</text>
<use href="#led26" transform="translate(3151.5 1574.6)"/>
<text x="3258.5" y="1585" font-size="37.5" font-weight="bold" text-anchor="start" textLength="450" lengthAdjust="spacingAndGlyphs">ETC Source 4 LED 26deg</text>
<text x="3755" y="1585" font-size="37.5" font-weight="bold" text-anchor="start">5</text>
<use href="#led36" transform="translate(3151.5 1666.3)"/>
<text x="3258.5" y="1677.7" font-size="37.5" font-weight="bold" text-anchor="start" textLength="450" lengthAdjust="spacingAndGlyphs">ETC Source 4 LED 36deg</text>
<text x="3755" y="1677.7" font-size="37.5" font-weight="bold" text-anchor="start">9</text>
<use href="#led50" transform="translate(3151 1759.3)"/>
<text x="3258.5" y="1770" font-size="37.5" font-weight="bold" text-anchor="start" textLength="450" lengthAdjust="spacingAndGlyphs">ETC Source 4 LED 50deg</text>
<text x="3755" y="1770" font-size="37.5" font-weight="bold" text-anchor="start">2</text>
<use href="#par" transform="translate(3102.75 1853.3)"/>
<text x="3258.5" y="1841.6" font-size="37.5" font-weight="bold" text-anchor="start" textLength="401.4" lengthAdjust="spacingAndGlyphs">ETC ColorSource PAR</text>
<text x="3755" y="1841.6" font-size="37.5" font-weight="bold" text-anchor="start">9</text>
<text x="3258.5" y="1886.4" font-size="37.5" font-weight="bold" text-anchor="start" textLength="181.5" lengthAdjust="spacingAndGlyphs">Wide Oval</text>
<use href="#ovation" transform="translate(3145 1987.7)"/>
<text x="0" y="0" font-size="10.5" font-weight="normal" text-anchor="middle" textLength="10.5" lengthAdjust="spacingAndGlyphs" transform="translate(3086.4 1988) rotate(-90)" dy="3.7">FC</text>
<text x="3258.5" y="1977" font-size="37.5" font-weight="bold" text-anchor="start" textLength="469" lengthAdjust="spacingAndGlyphs">Chauvet Ovation E-910 FC</text>
<text x="3755" y="1977" font-size="37.5" font-weight="bold" text-anchor="start">4</text>
<text x="3258.5" y="2020.5" font-size="37.5" font-weight="bold" text-anchor="start" textLength="179" lengthAdjust="spacingAndGlyphs">36 Degree</text>
<g transform="translate(3118.3 2142.3) rotate(-90)"><use href="#r2xbody" transform="scale(1 1.01)"/></g>
<path d="M3114.17,2103.02 A39.5,39.5 0 0 1 3148.11,2116.39 M3157.8,2142.3 A39.5,39.5 0 0 1 3141.52,2174.26 M3091.87,2171.65 A39.5,39.5 0 0 1 3079.02,2138.17 " fill="none" stroke="#000" stroke-width="2.4"/>
<text x="3258.5" y="2154" font-size="37.5" font-weight="bold" text-anchor="start" textLength="470.7" lengthAdjust="spacingAndGlyphs">Chauvet Rogue R2X Wash</text>
<text x="3755" y="2154" font-size="37.5" font-weight="bold" text-anchor="start">6</text>
<use href="#hex" transform="translate(3095.5 2245.5)"/>
<text x="3258.5" y="2234.7" font-size="37.5" font-weight="bold" text-anchor="start" textLength="446.5" lengthAdjust="spacingAndGlyphs">Chauvet DJ Freedom Par</text>
<text x="3755" y="2234.7" font-size="37.5" font-weight="bold" text-anchor="start">6</text>
<text x="3258.5" y="2278.6" font-size="37.5" font-weight="bold" text-anchor="start" textLength="101.4" lengthAdjust="spacingAndGlyphs">Hex 4</text>
<use href="#sixpar" transform="translate(3094.1 2387)"/>
<text x="3258.5" y="2397" font-size="37.5" font-weight="bold" text-anchor="start" textLength="188.6" lengthAdjust="spacingAndGlyphs">Sixpar 100</text>
<text x="3755" y="2397" font-size="37.5" font-weight="bold" text-anchor="start">10</text>
<rect x="3078.4" y="2458.4" width="234.4" height="17.6" fill="#fff" stroke="#000" stroke-width="2.6"/>
<rect x="3184.2" y="2476.2" width="23.6" height="11" fill="none" stroke="#f00" stroke-width="2.2"/>
<text x="3258.5" y="2522.7" font-size="37.5" font-weight="bold" text-anchor="start" textLength="490" lengthAdjust="spacingAndGlyphs">Chauvet COLORado Batten</text>
<text x="3755" y="2522.7" font-size="37.5" font-weight="bold" text-anchor="start">7</text>
<text x="3258.5" y="2566" font-size="37.5" font-weight="bold" text-anchor="start" textLength="67" lengthAdjust="spacingAndGlyphs">72X</text>
<rect x="359.5" y="96.5" width="3496" height="56" fill="url(#hatch)" stroke="#000" stroke-width="2.4" stroke-linejoin="round"/>
<rect x="359.5" y="152.5" width="137" height="1407" fill="url(#hatch)" stroke="#000" stroke-width="2.4" stroke-linejoin="round"/>
<rect x="3797.5" y="152.5" width="58" height="1257.3" fill="url(#hatch)" stroke="#000" stroke-width="2.4" stroke-linejoin="round"/>
<rect x="496.5" y="1409.6" width="916" height="23.6" fill="url(#hatch)" stroke="#000" stroke-width="2.4" stroke-linejoin="round"/>
<rect x="3019.5" y="1409.6" width="836" height="23.6" fill="url(#hatch)" stroke="#000" stroke-width="2.4" stroke-linejoin="round"/>
<rect x="1354.5" y="1433.2" width="51" height="1226.8" fill="url(#hatch)" stroke="#000" stroke-width="2.4" stroke-linejoin="round"/>
<rect x="3015" y="1433.2" width="51.5" height="1226.8" fill="url(#hatch)" stroke="#000" stroke-width="2.4" stroke-linejoin="round"/>
<rect x="1412.5" y="1410" width="2443" height="23.6" fill="none" stroke="#000" stroke-width="2.6"/>
<rect x="1413.6" y="1411" width="110.6" height="21" fill="#aaaaaa" stroke="none"/>
<rect x="2906" y="1411" width="113" height="21" fill="#aaaaaa" stroke="none"/>
<line x1="1524.5" y1="1410" x2="1524.5" y2="1433" stroke="#000" stroke-width="1.8"/>
<line x1="2905.8" y1="1410" x2="2905.8" y2="1433" stroke="#000" stroke-width="1.8"/>
<line x1="3019.3" y1="1410" x2="3019.3" y2="1433" stroke="#000" stroke-width="2"/>
<rect x="1525.4" y="1416" width="1380.2" height="5.3" fill="#a0a0a5"/>
<rect x="1525.4" y="1422.2" width="1380.2" height="2.7" fill="#a0a0a5"/>
<rect x="1525.4" y="1427.1" width="1380.2" height="3.2" fill="#a0a0a5"/>
<line x1="2147.3" y1="1400" x2="2147.3" y2="1433" stroke="#555" stroke-width="1.1"/>
<ellipse cx="955.7" cy="289" rx="56" ry="31.7" fill="none" stroke="#000" stroke-width="2.7"/>
<text x="955.7" y="297.8" font-size="38.6" font-weight="bold" text-anchor="middle" textLength="93.34" lengthAdjust="spacingAndGlyphs">2/105</text>
<ellipse cx="1280.5" cy="290" rx="56" ry="31.7" fill="none" stroke="#000" stroke-width="2.7"/>
<text x="1280.5" y="298.8" font-size="38.6" font-weight="bold" text-anchor="middle" textLength="91.28" lengthAdjust="spacingAndGlyphs">2/110</text>
<ellipse cx="1700" cy="296" rx="56" ry="31.7" fill="none" stroke="#000" stroke-width="2.7"/>
<text x="1700" y="304.8" font-size="38.6" font-weight="bold" text-anchor="middle" textLength="91.28" lengthAdjust="spacingAndGlyphs">2/115</text>
<ellipse cx="2150" cy="287" rx="56" ry="31.7" fill="none" stroke="#000" stroke-width="2.7"/>
<text x="2150" y="295.8" font-size="38.6" font-weight="bold" text-anchor="middle" textLength="93.34" lengthAdjust="spacingAndGlyphs">2/120</text>
<ellipse cx="2511.6" cy="287" rx="56" ry="31.7" fill="none" stroke="#000" stroke-width="2.7"/>
<text x="2511.6" y="295.8" font-size="38.6" font-weight="bold" text-anchor="middle" textLength="93.34" lengthAdjust="spacingAndGlyphs">2/125</text>
<ellipse cx="2906.2" cy="296" rx="56" ry="31.7" fill="none" stroke="#000" stroke-width="2.7"/>
<text x="2906.2" y="304.8" font-size="38.6" font-weight="bold" text-anchor="middle" textLength="93.34" lengthAdjust="spacingAndGlyphs">2/130</text>
<ellipse cx="3257.5" cy="296" rx="56" ry="31.7" fill="none" stroke="#000" stroke-width="2.7"/>
<text x="3257.5" y="304.8" font-size="38.6" font-weight="bold" text-anchor="middle" textLength="93.34" lengthAdjust="spacingAndGlyphs">2/135</text>
<ellipse cx="2000" cy="593" rx="56" ry="31.7" fill="none" stroke="#000" stroke-width="2.7"/>
<text x="2000" y="601.8" font-size="38.6" font-weight="bold" text-anchor="middle" textLength="93.34" lengthAdjust="spacingAndGlyphs">2/341</text>
<ellipse cx="2244" cy="593" rx="56" ry="31.7" fill="none" stroke="#000" stroke-width="2.7"/>
<text x="2244" y="601.8" font-size="38.6" font-weight="bold" text-anchor="middle" textLength="93.34" lengthAdjust="spacingAndGlyphs">2/346</text>
<ellipse cx="1690" cy="637" rx="56" ry="31.7" fill="none" stroke="#000" stroke-width="2.7"/>
<text x="1690" y="645.8" font-size="38.6" font-weight="bold" text-anchor="middle" textLength="93.34" lengthAdjust="spacingAndGlyphs">2/336</text>
<ellipse cx="2539" cy="648" rx="56" ry="31.7" fill="none" stroke="#000" stroke-width="2.7"/>
<text x="2539" y="656.8" font-size="38.6" font-weight="bold" text-anchor="middle" textLength="93.34" lengthAdjust="spacingAndGlyphs">2/351</text>
<ellipse cx="1043.6" cy="469.5" rx="56" ry="31.7" fill="none" stroke="#000" stroke-width="2.7"/>
<text x="1043.6" y="478.3" font-size="38.6" font-weight="bold" text-anchor="middle" textLength="93.34" lengthAdjust="spacingAndGlyphs">2/300</text>
<ellipse cx="1456.6" cy="461.8" rx="56" ry="31.7" fill="none" stroke="#000" stroke-width="2.7"/>
<text x="1456.6" y="470.6" font-size="38.6" font-weight="bold" text-anchor="middle" textLength="93.34" lengthAdjust="spacingAndGlyphs">2/306</text>
<ellipse cx="1879.3" cy="461.8" rx="56" ry="31.7" fill="none" stroke="#000" stroke-width="2.7"/>
<text x="1879.3" y="470.6" font-size="38.6" font-weight="bold" text-anchor="middle" textLength="93.34" lengthAdjust="spacingAndGlyphs">2/312</text>
<ellipse cx="2302" cy="461.8" rx="56" ry="31.7" fill="none" stroke="#000" stroke-width="2.7"/>
<text x="2302" y="470.6" font-size="38.6" font-weight="bold" text-anchor="middle" textLength="93.34" lengthAdjust="spacingAndGlyphs">2/318</text>
<ellipse cx="2725.3" cy="461.8" rx="56" ry="31.7" fill="none" stroke="#000" stroke-width="2.7"/>
<text x="2725.3" y="470.6" font-size="38.6" font-weight="bold" text-anchor="middle" textLength="93.34" lengthAdjust="spacingAndGlyphs">2/324</text>
<ellipse cx="3148" cy="461.8" rx="56" ry="31.7" fill="none" stroke="#000" stroke-width="2.7"/>
<text x="3148" y="470.6" font-size="38.6" font-weight="bold" text-anchor="middle" textLength="93.34" lengthAdjust="spacingAndGlyphs">2/330</text>
<ellipse cx="606.5" cy="521" rx="56" ry="31.7" fill="none" stroke="#000" stroke-width="2.7"/>
<text x="606.5" y="529.8" font-size="38.6" font-weight="bold" text-anchor="middle" textLength="93.34" lengthAdjust="spacingAndGlyphs">2/294</text>
<ellipse cx="606.5" cy="645.7" rx="56" ry="31.7" fill="none" stroke="#000" stroke-width="2.7"/>
<text x="606.5" y="654.5" font-size="38.6" font-weight="bold" text-anchor="middle" textLength="93.34" lengthAdjust="spacingAndGlyphs">2/288</text>
<ellipse cx="606.5" cy="770" rx="56" ry="31.7" fill="none" stroke="#000" stroke-width="2.7"/>
<text x="606.5" y="778.8" font-size="38.6" font-weight="bold" text-anchor="middle" textLength="93.34" lengthAdjust="spacingAndGlyphs">2/282</text>
<ellipse cx="606.5" cy="894.7" rx="56" ry="31.7" fill="none" stroke="#000" stroke-width="2.7"/>
<text x="606.5" y="903.5" font-size="38.6" font-weight="bold" text-anchor="middle" textLength="93.34" lengthAdjust="spacingAndGlyphs">2/276</text>
<ellipse cx="606.5" cy="1019.6" rx="56" ry="31.7" fill="none" stroke="#000" stroke-width="2.7"/>
<text x="606.5" y="1028.4" font-size="38.6" font-weight="bold" text-anchor="middle" textLength="93.34" lengthAdjust="spacingAndGlyphs">2/270</text>
<ellipse cx="3712" cy="531.5" rx="56" ry="31.7" fill="none" stroke="#000" stroke-width="2.7"/>
<text x="3712" y="540.3" font-size="38.6" font-weight="bold" text-anchor="middle" textLength="93.34" lengthAdjust="spacingAndGlyphs">2/254</text>
<ellipse cx="3712" cy="664.3" rx="56" ry="31.7" fill="none" stroke="#000" stroke-width="2.7"/>
<text x="3712" y="673.1" font-size="38.6" font-weight="bold" text-anchor="middle" textLength="93.34" lengthAdjust="spacingAndGlyphs">2/248</text>
<ellipse cx="3712" cy="797.2" rx="56" ry="31.7" fill="none" stroke="#000" stroke-width="2.7"/>
<text x="3712" y="806" font-size="38.6" font-weight="bold" text-anchor="middle" textLength="93.34" lengthAdjust="spacingAndGlyphs">2/242</text>
<ellipse cx="3712" cy="930" rx="56" ry="31.7" fill="none" stroke="#000" stroke-width="2.7"/>
<text x="3712" y="938.8" font-size="38.6" font-weight="bold" text-anchor="middle" textLength="93.34" lengthAdjust="spacingAndGlyphs">2/236</text>
<ellipse cx="3712" cy="1063" rx="56" ry="31.7" fill="none" stroke="#000" stroke-width="2.7"/>
<text x="3712" y="1071.8" font-size="38.6" font-weight="bold" text-anchor="middle" textLength="93.34" lengthAdjust="spacingAndGlyphs">2/230</text>
<ellipse cx="760" cy="418" rx="56" ry="31.7" fill="none" stroke="#000" stroke-width="2.7"/>
<text x="760" y="426.8" font-size="38.6" font-weight="bold" text-anchor="middle" textLength="93.34" lengthAdjust="spacingAndGlyphs">2/260</text>
<ellipse cx="3583.5" cy="402" rx="56" ry="31.7" fill="none" stroke="#000" stroke-width="2.7"/>
<text x="3583.5" y="410.8" font-size="38.6" font-weight="bold" text-anchor="middle" textLength="93.34" lengthAdjust="spacingAndGlyphs">2/220</text>
<ellipse cx="1334" cy="687.4" rx="56" ry="31.7" fill="none" stroke="#000" stroke-width="2.7"/>
<text x="1334" y="696.2" font-size="38.6" font-weight="bold" text-anchor="middle" textLength="93.34" lengthAdjust="spacingAndGlyphs">2/483</text>
<ellipse cx="1473" cy="682" rx="56" ry="31.7" fill="none" stroke="#000" stroke-width="2.7"/>
<text x="1473" y="690.8" font-size="38.6" font-weight="bold" text-anchor="middle" textLength="72.6" lengthAdjust="spacingAndGlyphs">2/80</text>
<ellipse cx="2127" cy="683.5" rx="56" ry="31.7" fill="none" stroke="#000" stroke-width="2.7"/>
<text x="2127" y="692.3" font-size="38.6" font-weight="bold" text-anchor="middle" textLength="72.6" lengthAdjust="spacingAndGlyphs">2/85</text>
<ellipse cx="2758.3" cy="682.5" rx="56" ry="31.7" fill="none" stroke="#000" stroke-width="2.7"/>
<text x="2758.3" y="691.3" font-size="38.6" font-weight="bold" text-anchor="middle" textLength="72.6" lengthAdjust="spacingAndGlyphs">2/90</text>
<ellipse cx="2934" cy="699" rx="56" ry="31.7" fill="none" stroke="#000" stroke-width="2.7"/>
<text x="2934" y="707.8" font-size="38.6" font-weight="bold" text-anchor="middle" textLength="93.34" lengthAdjust="spacingAndGlyphs">2/498</text>
<ellipse cx="842.4" cy="966" rx="56" ry="31.7" fill="none" stroke="#000" stroke-width="2.7"/>
<text x="842.4" y="974.8" font-size="38.6" font-weight="bold" text-anchor="middle" textLength="72.6" lengthAdjust="spacingAndGlyphs">2/30</text>
<ellipse cx="1480.8" cy="937.2" rx="56" ry="31.7" fill="none" stroke="#000" stroke-width="2.7"/>
<text x="1480.8" y="946" font-size="38.6" font-weight="bold" text-anchor="middle" textLength="72.6" lengthAdjust="spacingAndGlyphs">2/65</text>
<ellipse cx="2135" cy="934.4" rx="56" ry="31.7" fill="none" stroke="#000" stroke-width="2.7"/>
<text x="2135" y="943.2" font-size="38.6" font-weight="bold" text-anchor="middle" textLength="72.6" lengthAdjust="spacingAndGlyphs">2/70</text>
<ellipse cx="2765.8" cy="948.4" rx="56" ry="31.7" fill="none" stroke="#000" stroke-width="2.7"/>
<text x="2765.8" y="957.2" font-size="38.6" font-weight="bold" text-anchor="middle" textLength="72.6" lengthAdjust="spacingAndGlyphs">2/75</text>
<ellipse cx="3357.5" cy="965" rx="56" ry="31.7" fill="none" stroke="#000" stroke-width="2.7"/>
<text x="3357.5" y="973.8" font-size="38.6" font-weight="bold" text-anchor="middle" textLength="72.6" lengthAdjust="spacingAndGlyphs">2/20</text>
<ellipse cx="851" cy="1294.5" rx="56" ry="31.7" fill="none" stroke="#000" stroke-width="2.7"/>
<text x="851" y="1303.3" font-size="38.6" font-weight="bold" text-anchor="middle" textLength="72.6" lengthAdjust="spacingAndGlyphs">2/40</text>
<ellipse cx="1153.8" cy="1319.7" rx="56" ry="31.7" fill="none" stroke="#000" stroke-width="2.7"/>
<text x="1153.8" y="1328.5" font-size="38.6" font-weight="bold" text-anchor="middle" textLength="93.34" lengthAdjust="spacingAndGlyphs">2/140</text>
<ellipse cx="1341.2" cy="1326" rx="56" ry="31.7" fill="none" stroke="#000" stroke-width="2.7"/>
<text x="1341.2" y="1334.8" font-size="38.6" font-weight="bold" text-anchor="middle" textLength="93.34" lengthAdjust="spacingAndGlyphs">2/150</text>
<ellipse cx="1481" cy="1267.2" rx="56" ry="31.7" fill="none" stroke="#000" stroke-width="2.7"/>
<text x="1481" y="1276" font-size="38.6" font-weight="bold" text-anchor="middle" textLength="72.6" lengthAdjust="spacingAndGlyphs">2/50</text>
<ellipse cx="1854.7" cy="1322" rx="56" ry="31.7" fill="none" stroke="#000" stroke-width="2.7"/>
<text x="1854.7" y="1330.8" font-size="38.6" font-weight="bold" text-anchor="middle" textLength="93.34" lengthAdjust="spacingAndGlyphs">2/160</text>
<ellipse cx="1981" cy="1328" rx="56" ry="31.7" fill="none" stroke="#000" stroke-width="2.7"/>
<text x="1981" y="1336.8" font-size="38.6" font-weight="bold" text-anchor="middle" textLength="93.34" lengthAdjust="spacingAndGlyphs">2/170</text>
<ellipse cx="2132.4" cy="1267.2" rx="56" ry="31.7" fill="none" stroke="#000" stroke-width="2.7"/>
<text x="2132.4" y="1276" font-size="38.6" font-weight="bold" text-anchor="middle" textLength="72.6" lengthAdjust="spacingAndGlyphs">2/55</text>
<ellipse cx="2211" cy="1319.7" rx="56" ry="31.7" fill="none" stroke="#000" stroke-width="2.7"/>
<text x="2211" y="1328.5" font-size="38.6" font-weight="bold" text-anchor="middle" textLength="93.34" lengthAdjust="spacingAndGlyphs">2/180</text>
<ellipse cx="2321" cy="1322" rx="56" ry="31.7" fill="none" stroke="#000" stroke-width="2.7"/>
<text x="2321" y="1330.8" font-size="38.6" font-weight="bold" text-anchor="middle" textLength="93.34" lengthAdjust="spacingAndGlyphs">2/190</text>
<ellipse cx="2676" cy="1336" rx="56" ry="31.7" fill="none" stroke="#000" stroke-width="2.7"/>
<text x="2676" y="1344.8" font-size="38.6" font-weight="bold" text-anchor="middle" textLength="93.34" lengthAdjust="spacingAndGlyphs">2/200</text>
<ellipse cx="2834" cy="1274" rx="56" ry="31.7" fill="none" stroke="#000" stroke-width="2.7"/>
<text x="2834" y="1282.8" font-size="38.6" font-weight="bold" text-anchor="middle" textLength="72.6" lengthAdjust="spacingAndGlyphs">2/60</text>
<ellipse cx="2968" cy="1326.4" rx="56" ry="31.7" fill="none" stroke="#000" stroke-width="2.7"/>
<text x="2968" y="1335.2" font-size="38.6" font-weight="bold" text-anchor="middle" textLength="93.34" lengthAdjust="spacingAndGlyphs">2/210</text>
<ellipse cx="3356.5" cy="1286" rx="56" ry="31.7" fill="none" stroke="#000" stroke-width="2.7"/>
<text x="3356.5" y="1294.8" font-size="38.6" font-weight="bold" text-anchor="middle" textLength="72.6" lengthAdjust="spacingAndGlyphs">2/10</text>
<ellipse cx="1562.7" cy="1745.7" rx="56" ry="31.7" fill="none" stroke="#000" stroke-width="2.7"/>
<text x="1562.7" y="1754.5" font-size="38.6" font-weight="bold" text-anchor="middle" textLength="72.6" lengthAdjust="spacingAndGlyphs">3/40</text>
<ellipse cx="1822" cy="1691.7" rx="56" ry="31.7" fill="none" stroke="#000" stroke-width="2.7"/>
<text x="1822" y="1700.5" font-size="38.6" font-weight="bold" text-anchor="middle" textLength="93.34" lengthAdjust="spacingAndGlyphs">3/399</text>
<ellipse cx="2109.6" cy="1745.6" rx="56" ry="31.7" fill="none" stroke="#000" stroke-width="2.7"/>
<text x="2109.6" y="1754.4" font-size="38.6" font-weight="bold" text-anchor="middle" textLength="72.6" lengthAdjust="spacingAndGlyphs">3/50</text>
<ellipse cx="2566" cy="1691.7" rx="56" ry="31.7" fill="none" stroke="#000" stroke-width="2.7"/>
<text x="2566" y="1700.5" font-size="38.6" font-weight="bold" text-anchor="middle" textLength="93.34" lengthAdjust="spacingAndGlyphs">3/456</text>
<ellipse cx="2701.5" cy="1745.6" rx="56" ry="31.7" fill="none" stroke="#000" stroke-width="2.7"/>
<text x="2701.5" y="1754.4" font-size="38.6" font-weight="bold" text-anchor="middle" textLength="72.6" lengthAdjust="spacingAndGlyphs">3/60</text>
<ellipse cx="1694" cy="2026.5" rx="56" ry="31.7" fill="none" stroke="#000" stroke-width="2.7"/>
<text x="1694" y="2035.3" font-size="38.6" font-weight="bold" text-anchor="middle" textLength="72.6" lengthAdjust="spacingAndGlyphs">3/10</text>
<ellipse cx="1822" cy="1957.5" rx="56" ry="31.7" fill="none" stroke="#000" stroke-width="2.7"/>
<text x="1822" y="1966.3" font-size="38.6" font-weight="bold" text-anchor="middle" textLength="93.34" lengthAdjust="spacingAndGlyphs">3/285</text>
<ellipse cx="2108" cy="2013.4" rx="56" ry="31.7" fill="none" stroke="#000" stroke-width="2.7"/>
<text x="2108" y="2022.2" font-size="38.6" font-weight="bold" text-anchor="middle" textLength="72.6" lengthAdjust="spacingAndGlyphs">3/20</text>
<ellipse cx="2566" cy="1957.5" rx="56" ry="31.7" fill="none" stroke="#000" stroke-width="2.7"/>
<text x="2566" y="1966.3" font-size="38.6" font-weight="bold" text-anchor="middle" textLength="93.34" lengthAdjust="spacingAndGlyphs">3/342</text>
<ellipse cx="2696" cy="2019.7" rx="56" ry="31.7" fill="none" stroke="#000" stroke-width="2.7"/>
<text x="2696" y="2028.5" font-size="38.6" font-weight="bold" text-anchor="middle" textLength="72.6" lengthAdjust="spacingAndGlyphs">3/30</text>
</svg></body></html>
